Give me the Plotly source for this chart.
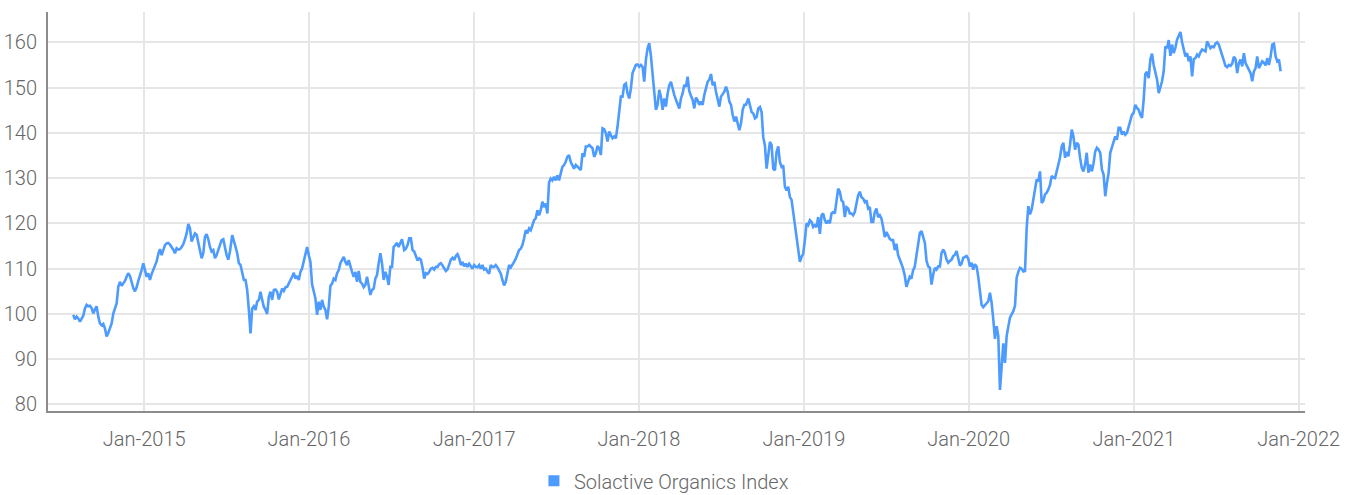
import pandas as pd
import plotly.graph_objects as go

# Solactive Organics Index levels, grouped by period (evenly spaced observations
# between each period's first and last date)
dates_2014_15 = ("2014-07-28", "2015-07-10")
v_2014_15 = [99.8, 98.8, 99.4, 99.0, 98.3, 99.0, 99.6, 101.2, 102.0, 101.7, 101.8, 101.3, 100.1, 101.0,
             101.7, 99.4, 97.9, 97.5, 97.8, 96.8, 95.0, 95.8, 96.8, 97.9, 100.1, 101.2, 102.3, 106.0,
             107.1, 106.2, 106.7, 107.3, 108.2, 109.0, 108.4, 107.0, 105.7, 105.0, 105.9, 107.3, 108.3,
             109.7, 111.2, 109.3, 108.2, 109.0, 107.5, 108.8, 109.8, 110.8, 111.6, 113.2, 114.3, 113.0,
             114.3, 115.2, 115.6, 115.7, 115.3, 114.8, 114.2, 113.4, 114.5, 114.2, 114.3, 114.8, 115.4,
             116.5, 117.8, 119.9, 118.9, 116.0, 116.8, 117.8, 117.5, 115.8, 114.1, 112.3, 113.4, 117.0,
             117.6, 116.5, 114.8, 113.8, 114.1, 112.3, 113.0, 114.0, 115.2, 116.3, 116.5, 114.5, 113.0,
             112.0, 113.8]

dates_2015_16 = ("2015-07-15", "2016-07-25")
v_2015_16 = [117.4, 116.3, 114.8, 113.4, 111.2, 110.8, 109.0, 107.5, 107.5, 105.3, 100.9, 95.7, 101.2,
             101.7, 100.9, 102.7, 103.1, 104.9, 103.1, 101.6, 100.9, 100.0, 103.8, 104.9, 103.1, 105.3,
             105.4, 104.9, 103.2, 104.2, 105.6, 105.1, 105.9, 106.0, 106.9, 107.5, 108.2, 109.1, 107.8,
             108.4, 107.5, 109.3, 110.1, 111.9, 113.7, 114.8, 113.0, 111.5, 106.5, 104.9, 103.4, 99.8,
             102.7, 100.9, 103.1, 101.6, 100.9, 98.8, 101.6, 106.2, 106.7, 107.8, 107.5, 109.0, 109.7,
             111.2, 112.0, 112.6, 111.5, 110.8, 111.9, 110.4, 109.3, 108.2, 109.3, 107.1, 109.5, 107.1,
             106.7, 105.9, 106.4, 108.2, 105.9, 104.2, 105.3, 105.6, 107.8, 108.6, 111.2, 113.4, 111.2,
             107.5, 109.3, 108.2, 106.4, 110.4, 110.4, 114.8, 115.2, 115.7, 114.8, 115.6, 116.5]

dates_2016_17 = ("2016-07-30", "2017-08-10")
v_2016_17 = [114.1, 114.4, 115.2, 116.7, 116.7, 114.1, 113.8, 112.8, 111.8, 112.3, 112.0, 110.2, 107.8,
             109.0, 108.8, 109.3, 110.0, 110.2, 109.8, 110.4, 110.4, 111.0, 111.2, 110.7, 110.0, 109.5,
             109.8, 111.0, 112.0, 112.4, 111.9, 112.8, 113.2, 112.3, 110.8, 111.5, 110.5, 111.1, 110.4,
             111.1, 110.4, 110.0, 110.8, 110.4, 110.3, 110.8, 110.0, 110.8, 109.8, 110.0, 109.3, 108.9,
             110.8, 110.4, 110.4, 110.8, 110.3, 109.7, 108.9, 107.5, 106.3, 107.1, 109.3, 110.8, 110.3,
             111.1, 111.5, 112.2, 113.3, 114.1, 114.4, 115.2, 116.7, 118.5, 117.8, 118.9, 118.5, 119.6,
             120.7, 121.1, 122.9, 121.8, 122.9, 124.8, 123.6, 124.4, 122.2, 129.0, 129.9, 129.5, 130.3,
             129.5, 130.6, 129.5, 131.4, 132.5, 132.9, 133.6, 134.7, 135.1, 133.6, 132.9, 132.1]

dates_2017_18 = ("2017-08-14", "2018-08-26")
v_2017_18 = [132.9, 132.5, 132.2, 131.8, 135.5, 134.7, 137.0, 137.0, 137.3, 137.0, 136.6, 134.7, 135.5,
             137.1, 136.6, 135.1, 141.0, 140.8, 139.9, 138.1, 140.3, 139.5, 138.8, 139.2, 138.8, 141.4,
             145.4, 148.0, 148.0, 150.6, 150.9, 148.7, 147.6, 149.8, 153.2, 154.3, 155.0, 155.1, 154.6,
             155.0, 154.6, 151.3, 156.2, 158.7, 159.8, 157.0, 152.5, 148.0, 145.1, 146.2, 149.5, 148.0,
             145.1, 147.6, 145.8, 148.7, 150.5, 151.3, 149.5, 148.4, 147.3, 146.5, 145.4, 147.6, 148.7,
             150.6, 150.2, 152.4, 149.2, 148.2, 147.3, 145.4, 147.8, 147.2, 146.2, 146.9, 146.2, 148.4,
             150.2, 151.3, 151.8, 153.0, 150.5, 151.3, 149.1, 147.6, 145.8, 148.0, 148.7, 149.1, 150.2,
             149.1, 146.9, 146.2, 144.0, 142.5, 143.6, 142.1, 140.6, 142.1, 145.1, 146.2, 146.2]

dates_2018_19 = ("2018-08-31", "2019-09-11")
v_2018_19 = [147.6, 146.1, 144.6, 144.3, 143.2, 143.5, 145.4, 145.7, 144.6, 139.0, 137.2, 132.1, 135.4,
             138.0, 137.3, 132.1, 131.7, 135.8, 137.0, 133.5, 132.5, 132.8, 128.1, 127.3, 128.1, 125.8,
             125.2, 122.5, 120.3, 116.5, 113.8, 111.5, 112.6, 113.3, 116.3, 120.0, 119.6, 120.7, 120.3,
             119.2, 119.6, 119.2, 121.4, 117.7, 121.8, 122.2, 120.7, 120.0, 120.7, 120.0, 122.2, 122.5,
             122.2, 125.5, 127.7, 127.0, 125.1, 124.7, 121.4, 123.6, 123.3, 122.2, 122.2, 121.8, 122.5,
             124.4, 126.2, 127.0, 125.8, 125.5, 124.7, 125.1, 123.3, 123.6, 120.3, 120.3, 122.5, 123.3,
             121.4, 121.8, 121.1, 119.2, 117.0, 118.1, 117.4, 116.6, 116.3, 116.3, 114.1, 115.5, 113.0,
             112.2, 111.1, 110.0, 108.5, 106.0, 107.4, 108.2, 107.8, 109.6, 110.4, 113.2, 115.9]

dates_2019_20 = ("2019-09-15", "2020-09-26")
v_2019_20 = [117.9, 118.3, 117.2, 115.7, 111.7, 110.5, 110.2, 106.5, 108.7, 110.2, 109.8, 110.5, 110.5,
             113.5, 114.2, 113.5, 112.0, 111.3, 111.7, 112.0, 112.8, 113.1, 113.9, 112.5, 110.7, 111.1,
             112.4, 112.6, 112.8, 112.2, 110.5, 111.3, 109.8, 111.0, 110.5, 108.2, 105.5, 102.0, 101.5,
             102.0, 102.3, 102.8, 104.7, 102.5, 98.8, 94.5, 97.3, 95.1, 83.2, 88.0, 93.5, 89.2, 95.1,
             97.2, 99.2, 99.9, 100.6, 101.8, 108.0, 109.3, 110.2, 110.0, 109.4, 109.5, 119.0, 123.8,
             122.0, 123.1, 125.3, 128.2, 129.7, 129.3, 131.5, 124.5, 125.0, 126.4, 126.8, 127.5, 128.5,
             130.5, 130.1, 130.0, 131.3, 133.0, 134.6, 137.0, 137.8, 134.5, 135.8, 134.8, 137.4, 140.7,
             139.3, 136.3, 137.8, 137.4, 134.5, 132.3, 131.5, 133.0, 135.6, 131.2, 133.0]

dates_2020_21 = ("2020-09-30", "2021-11-22")
v_2020_21 = [131.5, 133.3, 135.9, 136.7, 136.3, 135.6, 131.9, 130.8, 126.0, 128.9, 131.1, 135.6, 137.0,
             137.8, 139.2, 138.5, 141.1, 141.1, 139.6, 140.3, 139.6, 140.0, 141.4, 142.5, 144.0, 144.4,
             146.2, 145.5, 145.1, 144.0, 143.3, 147.3, 153.0, 153.5, 152.1, 156.2, 157.5, 155.0, 153.6,
             151.8, 148.8, 150.3, 151.4, 153.6, 159.1, 158.7, 160.5, 157.0, 159.5, 157.6, 158.8, 160.6,
             161.7, 162.3, 160.0, 158.0, 156.9, 157.6, 155.8, 156.9, 152.5, 156.3, 156.5, 157.3, 156.9,
             157.8, 158.4, 158.2, 158.0, 160.2, 159.5, 158.7, 159.1, 158.9, 159.7, 160.0, 159.5, 158.2,
             157.0, 156.0, 154.8, 154.5, 155.0, 154.8, 155.3, 156.8, 156.3, 153.2, 155.4, 156.2, 154.7,
             157.6, 155.4, 154.7, 154.0, 153.2, 151.4, 153.6, 154.3, 156.9, 154.3, 155.0, 155.8, 155.5,
             154.9, 156.5, 155.0, 156.8, 159.5, 159.7, 156.9, 155.8, 156.2, 153.6]

periods = [
    (dates_2014_15, v_2014_15),
    (dates_2015_16, v_2015_16),
    (dates_2016_17, v_2016_17),
    (dates_2017_18, v_2017_18),
    (dates_2018_19, v_2018_19),
    (dates_2019_20, v_2019_20),
    (dates_2020_21, v_2020_21),
]

series_name = "Solactive Organics Index"
x_ticks = ["2015-01-01", "2016-01-01", "2017-01-01", "2018-01-01",
           "2019-01-01", "2020-01-01", "2021-01-01", "2022-01-01"]
x_tick_labels = ["Jan-2015", "Jan-2016", "Jan-2017", "Jan-2018",
                 "Jan-2019", "Jan-2020", "Jan-2021", "Jan-2022"]
y_ticks = [80, 90, 100, 110, 120, 130, 140, 150, 160]

# Build the full series
frames = []
for (start, end), vals in periods:
    idx = pd.date_range(start, end, periods=len(vals))
    frames.append(pd.Series(vals, index=idx))
series = pd.concat(frames)

LINE_COLOR = "#4d9bff"
FONT = "Roboto, Lato, sans-serif"
TEXT_COLOR = "#666666"
GRID = "#e6e6e6"
AXIS = "#8c8c8c"

fig = go.Figure()
fig.add_trace(go.Scatter(
    x=series.index, y=series.values, mode="lines",
    line=dict(color=LINE_COLOR, width=2.6),
    name=series_name, showlegend=False,
))
# square legend key
fig.add_trace(go.Scatter(
    x=[None], y=[None], mode="markers",
    marker=dict(symbol="square", size=11, color=LINE_COLOR),
    name=series_name, showlegend=True,
))

fig.update_layout(
    width=1357, height=495,
    margin=dict(l=48, r=52, t=12, b=84, autoexpand=False),
    paper_bgcolor="white", plot_bgcolor="white",
    font=dict(family=FONT, size=20, color=TEXT_COLOR, weight=300),
    legend=dict(orientation="h", x=0.49, xanchor="center", y=-0.175, yanchor="middle",
                itemwidth=30, font=dict(size=20, color=TEXT_COLOR, weight=300)),
)
fig.update_xaxes(
    type="date", range=["2014-06-02", "2022-01-15"],
    tickvals=x_ticks, ticktext=x_tick_labels,
    showgrid=True, gridcolor=GRID, gridwidth=2,
    showline=True, linecolor=AXIS, linewidth=2,
    zeroline=False, ticks="", ticklabelstandoff=9, automargin=False,
)
fig.update_yaxes(
    range=[78.56, 166.7], tickvals=y_ticks,
    showgrid=True, gridcolor=GRID, gridwidth=2,
    showline=True, linecolor=AXIS, linewidth=2,
    zeroline=False, ticks="", ticklabelstandoff=5, automargin=False,
)

fig.write_html("out.html")
